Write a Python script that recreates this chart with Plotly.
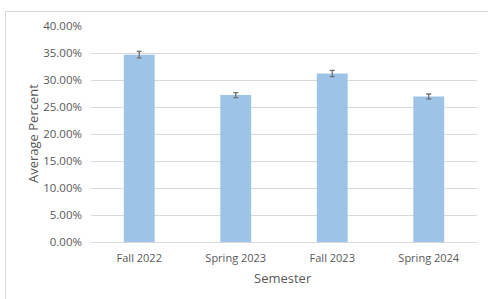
import plotly.graph_objects as go

semesters = ["Fall 2022", "Spring 2023", "Fall 2023", "Spring 2024"]
avg_percent = [0.3469, 0.2720, 0.3120, 0.2696]
err = [0.0060, 0.0045, 0.0058, 0.0045]
y_ticks = [0, 0.05, 0.10, 0.15, 0.20, 0.25, 0.30, 0.35, 0.40]
x_title = "Semester"
y_title = "Average Percent"

W, H = 488, 299
ml, mr, mt, mb = 91, 11, 26, 57
pw = W - ml - mr
ph = H - mt - mb
bottom = H - mb  # plot bottom in figure px


def px_x(x):
    return (x - ml) / pw


def px_y(y):
    return (bottom - y) / ph


fig = go.Figure(go.Bar(
    x=semesters, y=avg_percent,
    marker=dict(color="#9dc3e6", line=dict(width=0)),
    error_y=dict(type="data", array=err, visible=True, color="#6f6f6f", thickness=1.3, width=2.5),
))

fig.add_shape(type="rect", xref="paper", yref="paper",
              x0=px_x(5.5), x1=px_x(520), y0=px_y(330), y1=px_y(11.5),
              line=dict(color="#d9d9d9", width=1), layer="below")

fig.add_annotation(text=x_title, xref="paper", yref="paper",
                   x=px_x(283), y=px_y(278),
                   showarrow=False, xanchor="center", yanchor="middle",
                   font=dict(size=13, color="#595959"))
fig.add_annotation(text=y_title, xref="paper", yref="paper",
                   x=px_x(33), y=px_y(134),
                   showarrow=False, xanchor="center", yanchor="middle", textangle=-90,
                   font=dict(size=13, color="#595959"))

fig.update_layout(
    width=W, height=H,
    margin=dict(l=ml, r=mr, t=mt, b=mb, autoexpand=False),
    paper_bgcolor="white", plot_bgcolor="white",
    bargap=0.68,
    showlegend=False,
    font=dict(family="Open Sans, Liberation Sans, sans-serif", size=11, color="#595959"),
    xaxis=dict(
        automargin=False,
        showgrid=False, showline=True, linecolor="#d9d9d9", ticks="",
        tickfont=dict(size=11, color="#595959"), ticklabelstandoff=6,
    ),
    yaxis=dict(
        automargin=False,
        range=[0, 0.40], tickvals=y_ticks, tickformat=".2%",
        showgrid=True, gridcolor="#d9d9d9", gridwidth=1, zeroline=False,
        showline=False, ticks="", ticklabelstandoff=8,
        tickfont=dict(size=11.5, color="#595959"),
    ),
)

fig.write_html("out.html",
               config={"displayModeBar": False},
               post_script="document.body.style.margin='0px';document.body.style.overflow='hidden';")
